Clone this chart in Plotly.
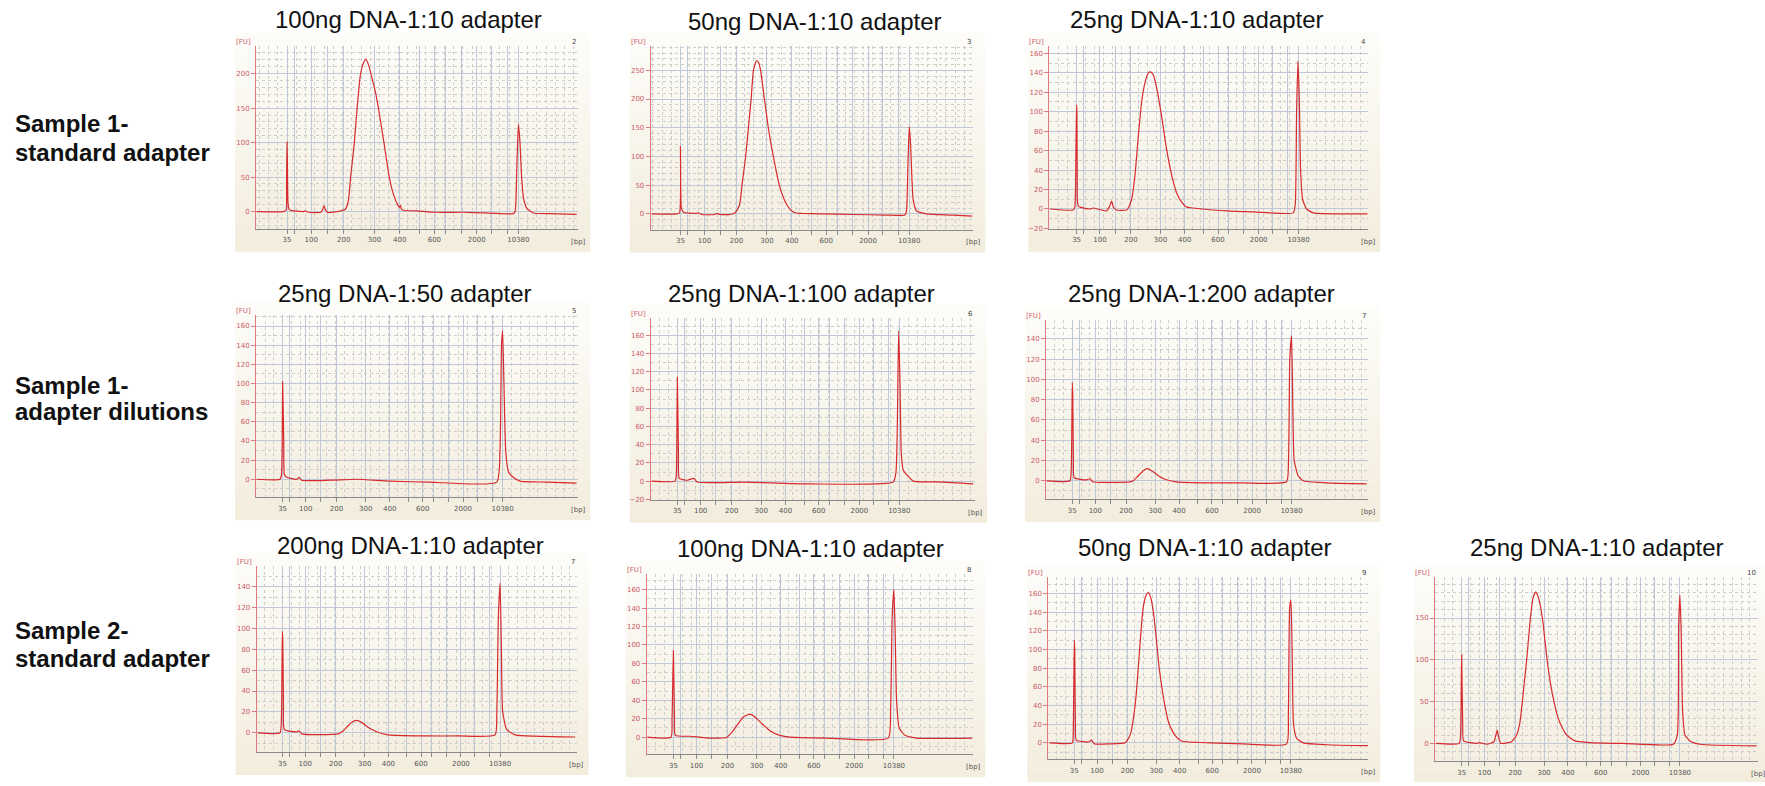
import numpy as np
import plotly.graph_objects as go

W, H = 1765, 786

# Ladder: fragment sizes and their migration positions (35 bp marker = 0, 10380 bp marker = 100)
ladder_bp = [35, 50, 100, 150, 200, 300, 400, 500, 600, 700, 1000, 2000, 3000, 7000, 10380]
ladder_pos = [0, 3.2, 10.5, 17.4, 24.5, 37.8, 48.7, 57.1, 63.7, 68.6, 75.4, 82.0, 88.4, 95.2, 100]
labelled_bp = [35, 100, 200, 300, 400, 600, 2000, 10380]

# Electropherogram traces: migration position and fluorescence [FU]
s1_100ng_x = [-13.1, -1.6, -0.4, -0.2, 0, 0.15, 0.4, 0.8, 1.5, 7.1, 7.8, 9.2, 14.6, 15.4, 16.0, 16.6, 17.4,
              21.5, 25.1, 26.5, 27.5, 29.1, 30.3, 31.8, 33.0, 34.1, 35.3, 37.0, 38.3, 39.5, 41.9, 44.2, 46.0,
              48.1, 48.5, 49.0, 49.4, 50.3, 56.1, 64.7, 76.2, 84.9, 97.8, 98.6, 99.3, 100, 100.7, 101.4, 102.2,
              103.6, 106.5, 113.7, 125.2]
s1_100ng_fu = [0, 0, 2, 40, 101, 78, 15, 4, 2, 0, 1, -1, -1, 3, 8.7, 3, -1,
               0, 3, 15, 50, 100, 150, 200, 215, 221, 212, 190, 172, 150, 100, 50, 25,
               8, 6, 9, 4, 2, 1, -1, -1, -2, -3, 0, 60, 127, 100, 50, 20,
               5, -2, -3, -4]

s1_50ng_x = [-12.5, -1.6, -0.4, 0, 0.4, 1.3, 7.1, 7.9, 9.3, 15.1, 15.9, 17.3, 21.7, 23.9, 25.8, 26.9, 28.5,
             29.7, 30.9, 31.9, 33.3, 34.2, 35.1, 36.7, 38.4, 40.6, 43.2, 45.7, 47.9, 50.1, 53.0, 61.0, 75.5,
             90.1, 98.1, 98.8, 99.4, 100, 100.6, 101.2, 101.7, 103.2, 107.6, 119.2, 127.5]
s1_50ng_fu = [0, 0, 2, 118, 10, 3, 1, 2, -1, -1, 1, -1, -1, 2, 15, 50, 100,
              150, 200, 250, 267, 263, 248, 200, 150, 100, 50, 22, 8, 2, 1, 0, -1,
              -2, -2, 5, 80, 152, 120, 60, 25, 5, 0, -2, -4]

s1_25ng_x = [-12, -1.5, -0.8, -0.3, 0, 0.15, 0.3, 0.8, 6, 7.5, 13.5, 14.7, 15.8, 16.5, 18, 22.5, 23.3,
             24.8, 26.3, 27.8, 29.3, 30.8, 32.3, 33.3, 34.5, 36.3, 38.3, 40.5, 42.8, 45.0, 47.3, 49.5, 57,
             67.6, 79.6, 97.6, 98.5, 99.1, 99.7, 100.3, 100.9, 101.8, 103.6, 106.6, 117, 131]
s1_25ng_fu = [0, -1, 2, 60, 107, 97, 30, 3, 0, 1, -2, 2, 8, 2, -1, -1, 1,
              10, 35, 75, 110, 130, 140, 141, 138, 122, 95, 62, 35, 17, 7, 2, 0,
              -2, -3, -4, 5, 100, 152, 115, 40, 10, 0, -4, -5, -5]

s1_1to50_x = [-11.8, -1.2, -0.5, 0, 0.5, 0.8, 1.8, 6.4, 7.6, 8.6, 21.5, 33.6, 48.8, 67, 97.3, 98.8, 99.5,
              100, 100.6, 101.4, 102.6, 104.8, 107.9, 120, 133.6]
s1_1to50_fu = [0, 0, 5, 102, 40, 5, 2, 0, 2, -1, -1, 0, -2, -3, -3, 30, 140,
               155, 100, 30, 8, 2, -2, -3, -4]

s1_1to100_x = [-11.6, -1, -0.5, 0, 0.5, 0.9, 4.2, 7.5, 9, 29.7, 59.8, 97.3, 98.5, 99.1, 99.7, 100.3, 100.9,
               101.8, 104.1, 106.3, 119.8, 133.3]
s1_1to100_fu = [0, 0, 5, 114, 30, 3, 1, 3, -1, -1, -3, -1, 10, 60, 165, 110, 30,
                12, 5, 0, -1, -3]

s1_1to200_x = [-11.7, -1.1, -0.5, 0, 0.2, 0.5, 0.9, 6.5, 8.1, 9.3, 26.3, 27.8, 30.1, 32.4, 34.2, 36.2, 39.2,
               43, 47.6, 62.8, 78, 97.7, 98.6, 99.2, 100, 100.6, 101.2, 103, 105.3, 116, 134.2]
s1_1to200_fu = [0, 0, 10, 97, 86, 20, 3, 1, 2, -1, -1, 0, 5, 10, 12, 10, 5,
                1, -1, -2, -2, -1, 20, 120, 143, 70, 20, 5, 0, -2, -3]

s2_200ng_x = [-11.3, -1.1, -0.5, 0, 0.2, 0.5, 0.9, 6.6, 7.7, 8.9, 25.7, 28, 30.3, 32.6, 34.1, 36.4, 39.5,
              43.3, 48.7, 65.5, 80.9, 97.7, 98.5, 99.2, 100, 100.6, 101.2, 103.1, 106.9, 134.5]
s2_200ng_fu = [0, 0, 10, 97, 87, 25, 3, 1, 2, -1, -1, 2, 7, 11, 12, 10, 5,
               1, -2, -3, -3, -2, 20, 110, 143, 80, 20, 3, -2, -4]

s2_100ng_x = [-11.8, -1.1, -0.6, 0, 0.5, 0.9, 7.6, 16.6, 24.2, 26.4, 29.5, 31.7, 34.7, 37, 40, 43.8, 48.3,
              52.9, 69.5, 97.4, 98.5, 99.2, 100, 100.6, 101.2, 102.4, 105, 110.3, 135.5]
s2_100ng_fu = [0, 0, 20, 94, 20, 2, 1, -1, 0, 5, 15, 22, 25, 22, 15, 7, 2,
               0, -1, -1, 30, 130, 160, 110, 40, 10, 2, -1, -1]

s2_50ng_x = [-11.5, -0.9, -0.5, 0, 0.2, 0.5, 0.9, 6.5, 8, 9.1, 16.5, 23.4, 24.2, 26.0, 27.2, 28.5, 29.5,
             30.8, 31.8, 33.1, 34.2, 35.4, 36.5, 37.5, 39.2, 41.8, 43.8, 46.5, 49.5, 62.6, 78, 98, 98.8,
             99.4, 100, 100.6, 101.2, 102.6, 105.7, 116.5, 135.5]
s2_50ng_fu = [0, 0, 10, 110, 100, 20, 3, 1, 3, -1, -1, 0, 2, 10, 25, 50, 80,
              120, 145, 158, 161, 155, 140, 120, 80, 40, 20, 8, 2, 0, -1, -1, 30,
              145, 153, 90, 20, 5, 0, -2, -3]

s2_25ng_x = [-11.8, -1.1, -0.5, 0, 0.5, 0.9, 6.9, 8.1, 11.5, 14.8, 15.7, 16.3, 16.9, 17.9, 21.4, 22.9, 25.2,
             26.7, 27.8, 29.8, 31.5, 32.8, 33.9, 35.1, 37.0, 38.2, 39.4, 40.8, 42.3, 44.0, 46.0, 48.1, 51.9,
             58.8, 74, 96.9, 98.8, 99.4, 100, 100.6, 101.2, 102.3, 104.6, 109.2, 135.1]
s2_25ng_fu = [0, 0, 10, 106, 20, 3, 0, 1, -1, 2, 10, 16, 8, 0, 1, 2, 10,
              25, 50, 100, 150, 175, 181, 175, 150, 122, 95, 70, 50, 32, 19, 10, 3,
              1, 0, -1, 10, 140, 177, 130, 40, 10, 3, -1, -3]

titles = ["100ng DNA-1:10 adapter", "50ng DNA-1:10 adapter", "25ng DNA-1:10 adapter",
          "25ng DNA-1:50 adapter", "25ng DNA-1:100 adapter", "25ng DNA-1:200 adapter",
          "200ng DNA-1:10 adapter", "100ng DNA-1:10 adapter", "50ng DNA-1:10 adapter",
          "25ng DNA-1:10 adapter"]
well_numbers = ["2", "3", "4", "5", "6", "7", "7", "8", "9", "10"]
row_labels = [("Sample 1-", "standard adapter"),
              ("Sample 1-", "adapter dilutions"),
              ("Sample 2-", "standard adapter")]

traces = [(s1_100ng_x, s1_100ng_fu), (s1_50ng_x, s1_50ng_fu), (s1_25ng_x, s1_25ng_fu),
          (s1_1to50_x, s1_1to50_fu), (s1_1to100_x, s1_1to100_fu), (s1_1to200_x, s1_1to200_fu),
          (s2_200ng_x, s2_200ng_fu), (s2_100ng_x, s2_100ng_fu), (s2_50ng_x, s2_50ng_fu),
          (s2_25ng_x, s2_25ng_fu)]

# Panel geometry in pixels: plot box (left, right, top, bottom), axis ranges, y step, title centre
geom = [
    dict(box=(256, 578.3, 46.7, 230), xr=(-13.4, 125.9), yr=(-25, 239.4), dy=50, t=(408.3, 20)),
    dict(box=(650.7, 973.3, 46, 230.7), xr=(-13.0, 128.0), yr=(-27.2, 292.7), dy=50, t=(815, 21.7)),
    dict(box=(1049.3, 1368.3, 46, 230), xr=(-12.3, 131.4), yr=(-20.4, 167.8), dy=20, t=(1196.7, 20)),
    dict(box=(256, 578.3, 316.7, 500), xr=(-12.1, 134.4), yr=(-19.0, 171.4), dy=20, t=(405, 295)),
    dict(box=(650.7, 975, 319.3, 502.3), xr=(-12.0, 134.1), yr=(-20.4, 179.3), dy=20, t=(801.7, 295)),
    dict(box=(1046, 1368.3, 321.7, 501.7), xr=(-12.0, 135.0), yr=(-18.1, 158.6), dy=20, t=(1201.7, 295)),
    dict(box=(256.7, 576.7, 569.3, 756), xr=(-11.8, 135.2), yr=(-18.5, 159.3), dy=20, t=(410.7, 548.3)),
    dict(box=(646.7, 973.3, 576.7, 758.3), xr=(-12.1, 136.0), yr=(-18.7, 177.2), dy=20, t=(810, 551.7)),
    dict(box=(1048.3, 1368.3, 580, 763.3), xr=(-12.0, 135.7), yr=(-17.7, 177.8), dy=20, t=(1205, 550)),
    dict(box=(1435, 1758.3, 580, 765), xr=(-12.2, 135.9), yr=(-21.2, 199.0), dy=50, t=(1596.7, 550)),
]
row_label_y = [(124, 153), (387, 414), (634, 662)]

TRACE_RED = "#d62a2e"
AXIS_RED = "#e07a80"
GRID_MAJOR = "#c0c7d6"
GRID_MINOR = "#cdcdcd"
TEXT_FONT = "Liberation Sans, Arial, sans-serif"
SMALL_FONT = "DejaVu Sans, Verdana, sans-serif"

fig = go.Figure()
layout = dict(width=W, height=H, margin=dict(l=0, r=0, t=0, b=0), autosize=False,
              paper_bgcolor="white", plot_bgcolor="rgba(0,0,0,0)", showlegend=False)
shapes, annotations = [], []


def px(x):
    return x / W


def py(y):
    return 1 - y / H


tick_text = [str(b) if b in labelled_bp else "" for b in ladder_bp]
minor_x = list(np.arange(-12, 140, 4.0))

top_col = np.array([253, 252, 249])
bot_col = np.array([243, 237, 222])

for i, (g, (xs, fus)) in enumerate(zip(geom, traces), start=1):
    L, R, T, B = g["box"]
    sfx = "" if i == 1 else str(i)

    # shaded panel background (vertical gradient)
    bl, br, bt, bb = L - 21, min(R + 12, W), T - 13, min(B + 23, H)
    n = 16
    for k in range(n):
        c = top_col + (bot_col - top_col) * (k / (n - 1))
        y0 = bt + (bb - bt) * k / n
        y1 = bt + (bb - bt) * (k + 1) / n
        shapes.append(dict(type="rect", xref="paper", yref="paper", layer="below",
                           x0=px(bl), x1=px(br), y0=py(y1), y1=py(y0),
                           line=dict(width=0),
                           fillcolor="rgb(%d,%d,%d)" % tuple(int(v) for v in c)))

    layout["xaxis" + sfx] = dict(
        domain=[px(L), px(R)], range=list(g["xr"]), anchor="y" + sfx,
        tickmode="array", tickvals=ladder_pos, ticktext=tick_text,
        showgrid=True, gridcolor=GRID_MAJOR, gridwidth=1, zeroline=False,
        showline=True, linecolor="#8a8a8a", linewidth=1,
        ticks="outside", ticklen=4, tickcolor="#8a8a8a", tickwidth=1,
        tickfont=dict(family=SMALL_FONT, size=7, color="#555555"),
        minor=dict(tickmode="array", tickvals=minor_x, showgrid=True,
                   gridcolor=GRID_MINOR, griddash="dot", gridwidth=1, ticks=""),
        fixedrange=True,
    )
    layout["yaxis" + sfx] = dict(
        domain=[py(B), py(T)], range=list(g["yr"]), anchor="x" + sfx,
        tickmode="linear", tick0=0, dtick=g["dy"],
        showgrid=True, gridcolor=GRID_MAJOR, gridwidth=1, zeroline=False,
        showline=True, linecolor=AXIS_RED, linewidth=1,
        ticks="outside", ticklen=4, tickcolor=AXIS_RED, tickwidth=1,
        tickfont=dict(family=SMALL_FONT, size=7, color="#cc5a66"),
        minor=dict(tickmode="linear", tick0=0, dtick=10, showgrid=True,
                   gridcolor=GRID_MINOR, griddash="dot", gridwidth=1, ticks=""),
        fixedrange=True,
    )

    fig.add_trace(go.Scatter(x=xs, y=fus, mode="lines",
                             line=dict(color=TRACE_RED, width=1.2, shape="spline", smoothing=0.5),
                             xaxis="x" + sfx, yaxis="y" + sfx,
                             hoverinfo="skip", showlegend=False))

    cx, cy = g["t"]
    annotations.append(dict(text=titles[i - 1], x=px(cx), y=py(cy), xref="paper", yref="paper",
                            showarrow=False, xanchor="center", yanchor="middle",
                            font=dict(family=TEXT_FONT, size=24, color="#111111")))
    annotations.append(dict(text="[FU]", x=px(L), y=py(T - 4), xref="paper", yref="paper",
                            showarrow=False, xanchor="right", yanchor="middle", xshift=-3,
                            font=dict(family=SMALL_FONT, size=7, color="#cc5a66")))
    annotations.append(dict(text="[bp]", x=px(R), y=py(B + 13), xref="paper", yref="paper",
                            showarrow=False, xanchor="center", yanchor="middle",
                            font=dict(family=SMALL_FONT, size=7, color="#555555")))
    annotations.append(dict(text=well_numbers[i - 1], x=px(R), y=py(T - 4), xref="paper", yref="paper",
                            showarrow=False, xanchor="right", yanchor="middle",
                            font=dict(family=SMALL_FONT, size=7, color="#444444")))

for (l1, l2), (y1, y2) in zip(row_labels, row_label_y):
    for txt, yy in ((l1, y1), (l2, y2)):
        annotations.append(dict(text="<b>%s</b>" % txt, x=px(13), y=py(yy), xref="paper", yref="paper",
                                showarrow=False, xanchor="left", yanchor="middle",
                                font=dict(family=TEXT_FONT, size=24, color="#111111")))

layout["shapes"] = shapes
layout["annotations"] = annotations
fig.update_layout(**layout)
fig.write_html("out.html")
